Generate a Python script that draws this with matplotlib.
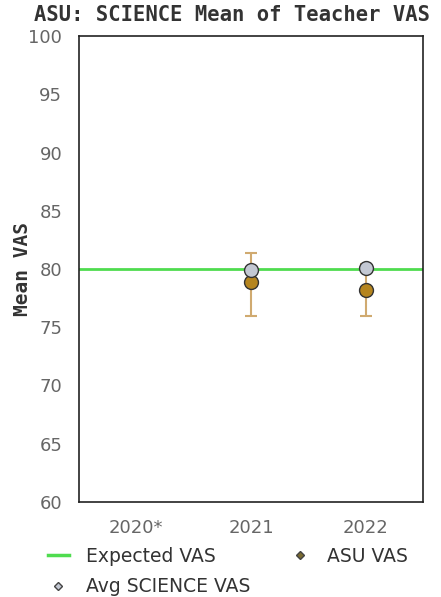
import matplotlib.pyplot as plt
from matplotlib.lines import Line2D
import numpy as np

# datos
anios = ['2020*', '2021', '2022']
esperado = 80
asu_vas = [np.nan, 78.9, 78.2]
asu_min = [np.nan, 76.0, 76.0]
asu_max = [np.nan, 81.4, 80.4]
avg_science = [np.nan, 79.9, 80.1]

x = np.arange(len(anios))
asu = np.array(asu_vas)
err_lo = asu - np.array(asu_min)
err_hi = np.array(asu_max) - asu

fig = plt.figure(figsize=(4.41, 5.97), dpi=100)
ax = fig.add_axes([79 / 441, 1 - 502 / 597, 344 / 441, 466 / 597])

ax.axhline(esperado, color='#4fdc4f', lw=2, zorder=1)
ax.errorbar(x, asu, yerr=[err_lo, err_hi], fmt='none', ecolor='#d0aa70',
            elinewidth=1.5, capsize=4, capthick=1.5, zorder=2)
ax.plot(x, asu, 'o', ms=10, mfc='#b5851f', mec='#333333', mew=1, ls='none', zorder=3)
ax.plot(x, avg_science, 'o', ms=10, mfc='#c3c8d3', mec='#333333', mew=1, ls='none', zorder=4)

ax.set_xlim(-0.5, 2.5)
ax.set_ylim(60, 100)
ax.set_yticks(range(60, 101, 5))
ax.set_xticks(x)
ax.set_xticklabels(anios)
ax.tick_params(length=0, labelsize=13, colors='#666666')
ax.tick_params(axis='y', pad=12)
ax.tick_params(axis='x', pad=12)
for s in ax.spines.values():
    s.set_color('#222222')
    s.set_linewidth(1.2)

ax.set_ylabel('Mean VAS', family='DejaVu Sans Mono', fontweight='bold',
              fontsize=14, color='#333333')
ax.yaxis.set_label_coords(-0.137, 0.5)
fig.text(0.527, 1 - 15 / 597, 'ASU: SCIENCE Mean of Teacher VAS', ha='center', va='center',
         family='DejaVu Sans Mono', fontweight='bold', fontsize=14.8, color='#333333')

# leyenda
handles = [
    Line2D([], [], color='#4fdc4f', lw=2.5),
    Line2D([], [], marker='D', ls='none', ms=4, mfc='#7a6a30', mec='#444444'),
    Line2D([], [], marker='D', ls='none', ms=4, mfc='#c3c8d3', mec='#444444'),
]
labels = ['Expected VAS', 'ASU VAS', 'Avg SCIENCE VAS']
leg = fig.legend([handles[0], handles[2], handles[1]], [labels[0], labels[2], labels[1]],
                 ncol=2, loc='lower left', bbox_to_anchor=(0.071, -0.027), frameon=False,
                 fontsize=13.5, handlelength=1.1, handletextpad=0.9, columnspacing=2.1,
                 labelspacing=0.62)
for t in leg.get_texts():
    t.set_color('#333333')

plt.savefig('out.png', dpi=100)
